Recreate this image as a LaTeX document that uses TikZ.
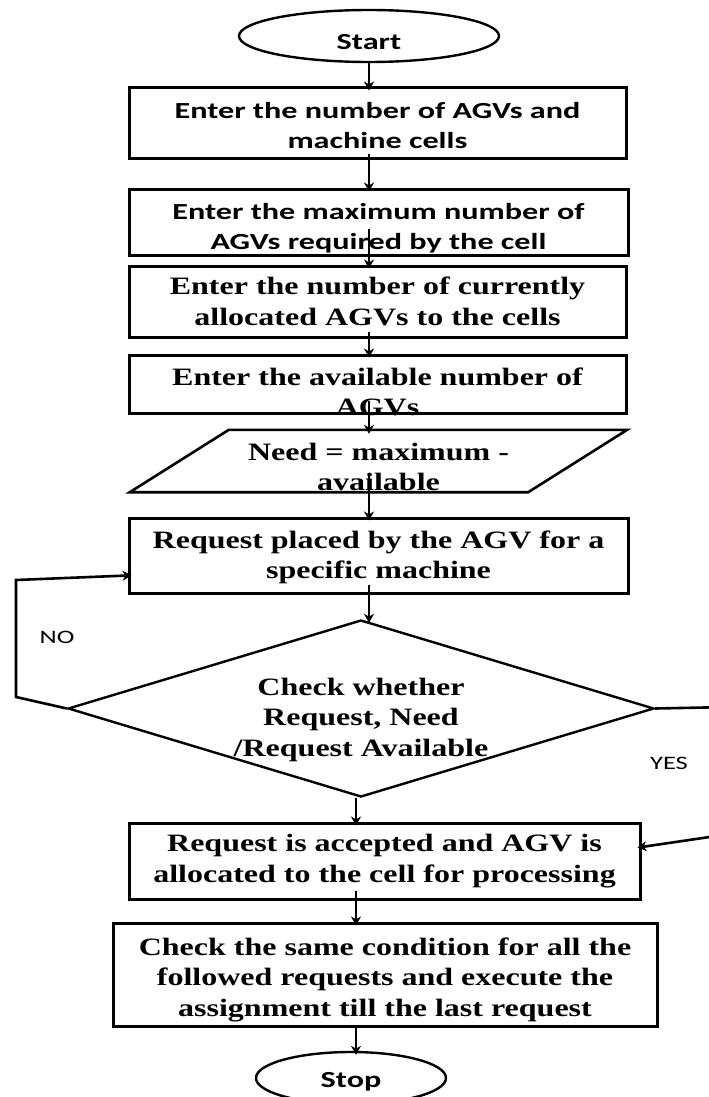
\documentclass[tikz,border=0pt]{standalone}
\usepackage{fontspec}
\setmainfont{Liberation Serif}[FakeStretch=1.28]
\newfontfamily\calfont{Carlito}[FakeStretch=1.4]
\usetikzlibrary{shapes.geometric,arrows.meta}

\begin{document}
\begin{tikzpicture}[x=1pt, y=-1pt,
    box/.style={draw, line width=3pt, rectangle, inner sep=0pt},
    term/.style={draw, line width=2.4pt, ellipse, inner sep=0pt},
    caltext/.style={inner sep=0pt, align=center, font=\calfont\bfseries\fontsize{23}{30}\selectfont},
    sertext/.style={inner sep=0pt, align=center, font=\bfseries\fontsize{25}{30.5}\selectfont},
    flow/.style={-{Stealth[length=9pt, width=10pt]}, line width=2.6pt, shorten >=-4pt},
    tag/.style={font=\calfont\fontsize{19}{22}\selectfont}]
    \useasboundingbox (0,0) rectangle (709,1097);
    \clip (0,0) rectangle (709,1097);
    \coordinate (col) at (369,0);
    \coordinate (col2) at (356,0);
    \node[term, minimum width=260pt, minimum height=52pt] (start) at (369,36) {};
    \node[caltext] (starttext) at (369,42) {Start};
    \node[box, minimum width=497pt, minimum height=70pt] (enter) at (377.5,123) {};
    \node[caltext] (entertext) at (377.5,126) {Enter the number of AGVs and\\machine cells};
    \node[box, minimum width=499pt, minimum height=66pt] (maxagv) at (378.5,222) {};
    \node[caltext] (maxagvtext) at (378.5,228) {Enter the maximum number of\\AGVs required by the cell};
    \node[box, minimum width=497pt, minimum height=71pt] (current) at (377.5,301.5) {};
    \node[sertext] (currenttext) at (377.5,301.5) {Enter the number of currently\\allocated AGVs to the cells};
    \node[box, minimum width=497pt, minimum height=58pt] (avail) at (377.5,384) {};
    \node[sertext] (availtext) at (377.5,392) {Enter the available number of\\AGVs};
    \node[minimum width=398pt, minimum height=62pt, inner sep=0pt] (need) at (378.5,461) {};
    \draw[line width=2.6pt] ([xshift=49.5pt]need.north west) -- ([xshift=49.5pt]need.north east)
        -- ([xshift=-49.5pt]need.south east) -- ([xshift=-49.5pt]need.south west) -- cycle;
    \node[sertext] (needtext) at (378.5,467) {Need = maximum -\\available};
    \node[box, minimum width=499pt, minimum height=75pt] (request) at (378.5,555.5) {};
    \node[sertext] (requesttext) at (378.5,557.5) {Request placed by the AGV for a\\specific machine};
    \node[draw, diamond, line width=2.4pt, inner sep=0pt, minimum width=586pt,
        minimum height=177pt] (check) at (361,708.5) {};
    \node[sertext] (checktext) at (361,719.5) {Check whether\\Request, Need\\/Request Available};
    \node[box, minimum width=511pt, minimum height=76pt] (accept) at (384.5,861) {};
    \node[sertext] (accepttext) at (384.5,861) {Request is accepted and AGV is\\allocated to the cell for processing};
    \node[box, minimum width=544pt, minimum height=103pt] (repeat) at (385,974.5) {};
    \node[sertext] (repeattext) at (385,979.5)
        {Check the same condition for all the\\followed requests and execute the\\assignment till the last request};
    \node[term, minimum width=190pt, minimum height=52pt] (stop) at (351,1078) {};
    \node[caltext] (stoptext) at (351,1082) {Stop};
    \draw[flow] (start) -- (start |- enter.north);
    \draw[flow] ([yshift=6pt]enter.south -| col) -- (maxagv.north -| col);
    \draw[flow] ([yshift=28pt]maxagv.south -| col) -- (current.north -| col);
    \draw[flow] ([yshift=7pt]current.south -| col) -- (avail.north -| col);
    \draw[flow] ([yshift=14pt]avail.south -| col) -- (need.north -| col);
    \draw[flow] ([yshift=19pt]need.south -| col) -- (request.north -| col);
    \draw[flow] ([yshift=10pt]request.south -| col) -- (check.north -| col);
    \draw[flow] (check.south -| col2) -- (accept.north -| col2);
    \draw[flow] ([yshift=10pt]accept.south -| col2) -- (repeat.north -| col2);
    \draw[flow] (repeat.south -| col2) -- (stop.north -| col2);
    \coordinate (nobend) at (16,697);
    \coordinate (notop) at (16,580);
    \draw[flow] (check.west) -- (nobend) -- (notop) -- ([yshift=-20pt]request.west);
    \node[tag] (no) at (57,637) {NO};
    \coordinate (yesright) at (730,707);
    \coordinate (yesdown) at (730,834);
    \draw[flow] (check.east) -- (yesright) -- (yesdown) -- ([yshift=14pt]accept.east);
    \node[tag] (yes) at (669,763) {YES};
\end{tikzpicture}
\end{document}
